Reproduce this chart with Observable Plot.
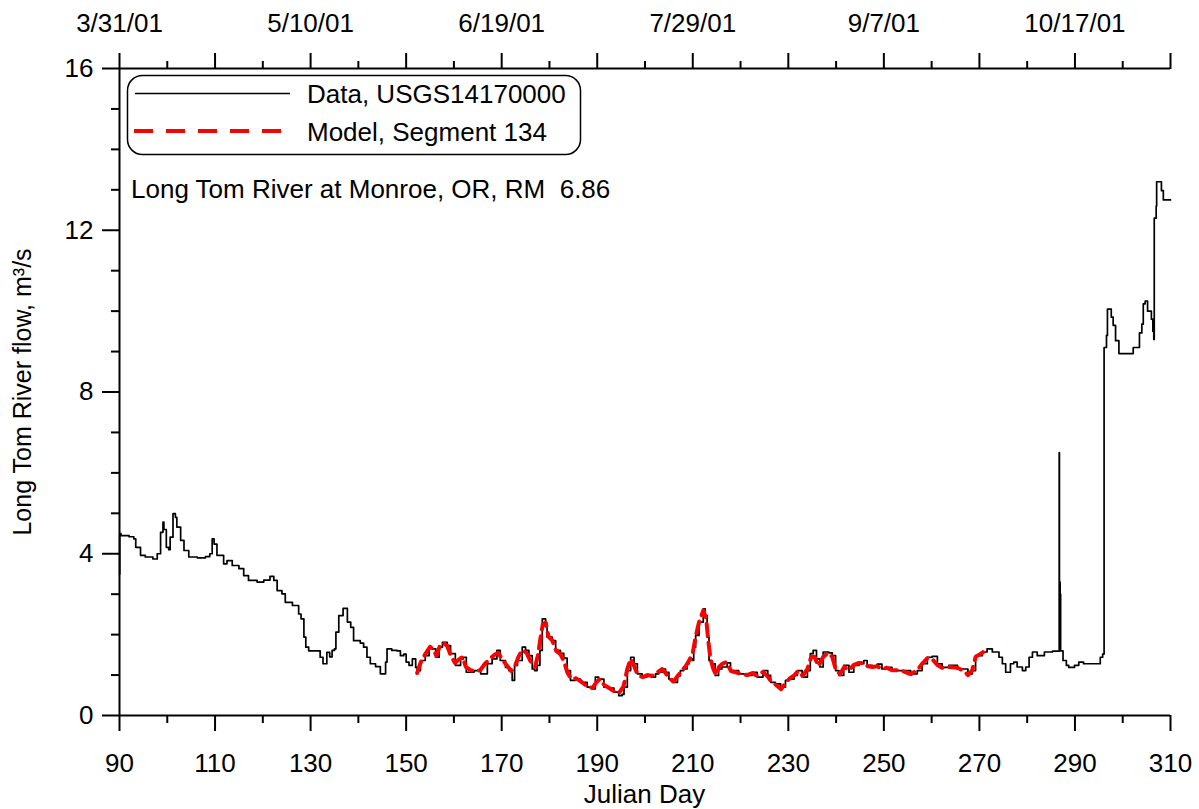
<!DOCTYPE html>
<html>
<head>
<meta charset="utf-8">
<script src="https://cdn.jsdelivr.net/npm/d3@7"></script>
<script src="https://cdn.jsdelivr.net/npm/@observablehq/plot@0.6"></script>
<style>
  html, body { margin: 0; padding: 0; background: #fff; }
  #chart { width: 1199px; height: 809px; }
  svg { display: block; }
</style>
</head>
<body>
<div id="chart"></div>
<script>
// ---------- data ----------
const obsDay = [90.0,90.05,90.3,92,93,93.4,94.4,95.4,97,97.9,98.6,99.1,99.3,99.8,100.3,100.6,101.2,101.7,102,102.8,103.5,104.5,106.3,108,108.9,109.4,109.8,110.4,111.8,112.5,113.6,115,116,117,118.8,120.2,121.5,122.3,123,124,124.7,126.2,127.5,128,128.6,129,129.6,131.4,132,132.6,133.4,134,134.5,135,135.3,135.9,136.8,137.7,138.4,139,140.4,141.1,141.8,142.5,143.6,144.6,145.3,145.7,146,147,148.1,148.8,149.5,150,150.6,151.3,152,152.3,153,154,154.8,155.4,156.2,156.9,157.6,158.6,159.3,160.3,161.4,162,162.6,164.2,165.6,167,168,169,169.7,170.8,171.5,172.2,172.7,173.3,174.3,175,175.7,176.4,176.9,177.4,178,178.5,179.2,179.5,180.6,181.3,182.3,183,183.7,184.4,185.4,186.5,187.9,189,189.6,190.3,191.4,192.5,193.5,194.5,195.2,195.6,196.3,197,197.7,198.4,199.4,200.4,201.3,202.2,202.9,203.6,204.3,205,205.7,206.8,207.4,208.1,208.8,209.2,209.9,210.2,210.6,211.3,212.2,212.6,213,213.4,214,214.7,215.4,216.1,217.2,217.9,219.6,221.3,222.4,223.5,224.7,225.7,226.3,227.3,228.4,229.4,230.1,231.2,231.9,232.9,234,234.6,235.2,235.9,236.6,237.3,238.5,239.2,239.9,240.6,241.6,242.7,243.7,244.8,245.8,246.5,247.6,248.6,249.6,250.6,251.7,253.5,255.6,257,258,259.1,260.1,261.2,262.2,263.6,265.4,266.8,267.6,268.5,269.2,270.6,271.6,272.7,274.1,274.8,275.5,276.5,277.2,277.9,279,279.7,280.4,281.1,282.1,283.2,283.6,285.3,286.6,286.7,286.75,286.85,286.9,286.95,287.0,287.5,288.2,288.7,289.9,290.8,291.8,293.3,294.8,295.3,295.8,296.1,296.6,296.8,297.5,297.6,298.0,298.5,299.2,302.0,302.2,303.1,303.5,304,304.3,304.7,305.2,305.7,306.0,306.3,306.5,306.6,307.0,307.1,307.9,308.1,308.5,310];
const obsFlow = [3.5,4.5,4.45,4.42,4.37,4.16,3.96,3.92,3.87,4.0,4.53,4.78,4.6,4.16,4.1,4.41,4.99,4.9,4.66,4.33,4.08,3.92,3.9,3.93,4.0,4.37,4.24,3.96,3.75,3.83,3.71,3.63,3.46,3.34,3.3,3.35,3.44,3.34,3.09,3.01,2.8,2.72,2.51,2.39,1.94,1.69,1.6,1.6,1.44,1.28,1.56,1.45,1.61,1.65,2.06,2.47,2.65,2.31,2.18,1.85,1.79,1.69,1.44,1.28,1.21,1.03,1.03,1.32,1.65,1.61,1.6,1.48,1.52,1.32,1.24,1.4,1.19,1.11,1.36,1.48,1.67,1.65,1.44,1.69,1.81,1.73,1.53,1.24,1.4,1.44,1.07,1.11,1.03,1.28,1.4,1.61,1.36,1.19,1.11,0.87,1.24,1.36,1.69,1.61,1.48,1.15,1.11,1.24,1.61,2.39,2.27,1.94,1.85,1.61,1.54,1.42,1.11,0.87,0.9,0.82,0.7,0.66,0.95,0.9,0.7,0.68,0.58,0.49,0.52,0.7,1.11,1.44,1.28,1.03,0.95,0.98,0.95,1.03,1.07,1.15,1.07,0.9,0.82,0.98,1.11,1.15,1.28,1.4,1.36,1.69,1.98,2.31,2.64,2.47,1.94,1.36,1.28,0.99,1.15,1.2,1.3,1.11,1.03,0.99,1.07,0.95,1.11,0.99,0.82,0.78,0.7,0.87,0.9,0.99,1.11,0.95,1.11,1.53,1.61,1.4,1.2,1.57,1.55,1.48,1.11,0.99,1.24,1.07,1.24,1.28,1.36,1.24,1.2,1.27,1.15,1.19,1.11,1.11,1.03,1.11,1.28,1.44,1.46,1.28,1.19,1.24,1.15,1.15,1.03,1.11,1.48,1.57,1.65,1.57,1.44,1.28,1.07,1.28,1.32,1.2,1.11,1.2,1.44,1.57,1.48,1.48,1.57,1.59,1.6,6.5,1.6,3.3,1.7,3.0,1.6,1.36,1.24,1.19,1.24,1.32,1.28,1.28,1.28,1.44,1.52,9.1,9.4,10.05,10.05,9.85,9.65,9.27,8.95,8.95,9.1,9.1,9.46,9.68,10.18,10.25,10.0,10.0,9.8,9.5,9.3,12.3,12.6,13.2,13.2,12.98,12.75,12.75];

const modelDay = [152.3,153,154,155,155.8,156.3,157,157.7,158.6,159.3,160.2,161,161.8,162.5,163.5,164.5,165.5,166.5,167.5,168.5,169.3,170,171,172,172.7,173.5,174.3,175.2,176,177,177.6,178.1,178.6,179.2,179.8,180.6,181.4,182.3,183,183.8,184.6,185.5,186.5,187.9,189,189.8,190.5,191.5,192.5,193.5,194.5,195.5,196.3,197,197.8,198.5,199.5,200.5,201.5,202.3,203,203.6,204.3,205.2,206,207,207.7,208.4,209.2,210,210.6,211.3,212.2,212.8,213.2,213.7,214.3,214.9,215.5,216.2,217,218,219.5,221.3,222.5,223.5,224.7,225.8,226.5,227.5,228.5,229.4,230.3,231.3,232,233,234,234.8,235.5,236.3,237.3,238.3,239.2,239.9,240.8,241.7,242.7,243.7,244.8,245.8,246.6,247.6,248.6,249.6,250.6,251.7,253.5,255.6,257,258,259.1,260.1,261.2,262.2,263.6,265.4,266.8,267.6,268.5,269.2,270.6,271.8];
const modelFlow = [1.05,1.3,1.52,1.7,1.62,1.48,1.7,1.8,1.72,1.5,1.3,1.38,1.45,1.2,1.12,1.1,1.12,1.28,1.4,1.5,1.55,1.4,1.25,1.1,1.2,1.45,1.62,1.55,1.35,1.2,1.5,1.9,2.25,2.3,1.95,1.85,1.6,1.52,1.35,1.05,0.9,0.92,0.85,0.72,0.68,0.82,0.9,0.75,0.68,0.6,0.55,0.72,1.15,1.4,1.2,1.0,0.95,1.0,0.98,1.05,1.1,1.15,1.05,0.9,0.85,1.0,1.12,1.2,1.35,1.55,1.95,2.3,2.6,2.4,1.9,1.4,1.15,1.0,1.2,1.28,1.32,1.1,1.05,1.0,1.05,0.98,1.08,0.95,0.82,0.75,0.65,0.8,0.92,1.0,1.1,0.98,1.15,1.45,1.45,1.22,1.45,1.55,1.45,1.15,1.02,1.2,1.12,1.25,1.3,1.3,1.22,1.2,1.22,1.15,1.18,1.12,1.12,1.02,1.12,1.28,1.42,1.4,1.25,1.18,1.2,1.18,1.1,1.0,1.12,1.45,1.55,1.68];

const xMajorTicks = [90,110,130,150,170,190,210,230,250,270,290,310];
const xMinorTicks = [100,120,140,160,180,200,220,240,260,280,300];
const yMajorTicks = [0,4,8,12,16];
const yMinorTicks = [1,2,3,5,6,7,9,10,11,13,14,15];
const dateDays = [90,130,170,210,250,290];
const dateLabels = ["3/31/01","5/10/01","6/19/01","7/29/01","9/7/01","10/17/01"];

const seriesNames = ["Data, USGS14170000","Model, Segment 134"];
const stationNote = "Long Tom River at Monroe, OR, RM\u00a0 6.86";
const xTitle = "Julian Day";
const yTitle = "Long Tom River flow, m\u00b3/s";

// ---------- tables ----------
const obs = obsDay.map((d, i) => ({day: d, flow: obsFlow[i]}));
const model = modelDay.map((d, i) => ({day: d, flow: modelFlow[i]}));
const dateMap = new Map(dateDays.map((d, i) => [d, dateLabels[i]]));

const FONT = "'Liberation Sans', Arial, Helvetica, sans-serif";
const FS = 26;

const chart = Plot.plot({
  width: 1199,
  height: 809,
  marginLeft: 119,
  marginRight: 29,
  marginTop: 68,
  marginBottom: 94,
  style: {fontFamily: FONT, fontSize: FS + "px", background: "#fff", color: "#000", overflow: "visible"},
  x: {domain: [90, 310]},
  y: {domain: [0, 16]},
  marks: [
    // bottom axis
    Plot.axisX({anchor: "bottom", ticks: xMajorTicks, tickSize: 16, tickPadding: 22, strokeWidth: 2, fontSize: FS, label: null}),
    Plot.axisX({anchor: "bottom", ticks: xMinorTicks, tickSize: 8, strokeWidth: 2, tickFormat: () => "", label: null}),
    // top axis
    Plot.axisX({anchor: "top", ticks: xMajorTicks, tickSize: 16, strokeWidth: 2, tickFormat: () => "", label: null}),
    Plot.axisX({anchor: "top", ticks: xMinorTicks, tickSize: 8, strokeWidth: 2, tickFormat: () => "", label: null}),
    Plot.axisX({anchor: "top", ticks: dateDays, tickSize: 0, tickPadding: 37, fontSize: FS, tickFormat: d => dateMap.get(d), label: null}),
    // left axis
    Plot.axisY({anchor: "left", ticks: yMajorTicks, tickSize: 17, tickPadding: 9, strokeWidth: 2, fontSize: FS, label: null}),
    Plot.axisY({anchor: "left", ticks: yMinorTicks, tickSize: 8, strokeWidth: 2, tickFormat: () => "", label: null}),
    // frame lines
    Plot.ruleY([0, 16], {stroke: "#000", strokeWidth: 2}),
    Plot.ruleX([90], {stroke: "#000", strokeWidth: 2}),
    // series
    Plot.line(obs, {x: "day", y: "flow", curve: "step-after", stroke: "#000", strokeWidth: 1.7}),
    Plot.line(model, {x: "day", y: "flow", stroke: "#ff0000", strokeWidth: 4, strokeDasharray: "12,7"})
  ]
});

const svg = d3.select(chart);

// legend box
const lg = svg.append("g").attr("font-family", FONT).attr("font-size", FS).attr("text-anchor", "start");
lg.append("rect").attr("x", 127.5).attr("y", 75.5).attr("width", 453).attr("height", 79)
  .attr("rx", 15).attr("ry", 15).attr("fill", "#fff").attr("stroke", "#000").attr("stroke-width", 1.5);
lg.append("line").attr("x1", 135).attr("x2", 290).attr("y1", 93.5).attr("y2", 93.5)
  .attr("stroke", "#000").attr("stroke-width", 1.7);
lg.append("text").attr("x", 307).attr("y", 103).attr("text-anchor", "start").text(seriesNames[0]);
lg.append("line").attr("x1", 134).attr("x2", 284).attr("y1", 131).attr("y2", 131)
  .attr("stroke", "#ff0000").attr("stroke-width", 4).attr("stroke-dasharray", "19,13");
lg.append("text").attr("x", 307).attr("y", 141).attr("text-anchor", "start").text(seriesNames[1]);

// station annotation
svg.append("text").attr("x", 131).attr("y", 198).attr("text-anchor", "start")
  .attr("font-family", FONT).attr("font-size", FS).text(stationNote);

// axis titles
svg.append("text").attr("x", 644.5).attr("y", 803).attr("text-anchor", "middle")
  .attr("font-family", FONT).attr("font-size", FS).text(xTitle);
svg.append("text").attr("transform", "translate(31,392) rotate(-90)").attr("text-anchor", "middle")
  .attr("font-family", FONT).attr("font-size", 25).text(yTitle);

document.getElementById("chart").appendChild(chart);
</script>
</body>
</html>
